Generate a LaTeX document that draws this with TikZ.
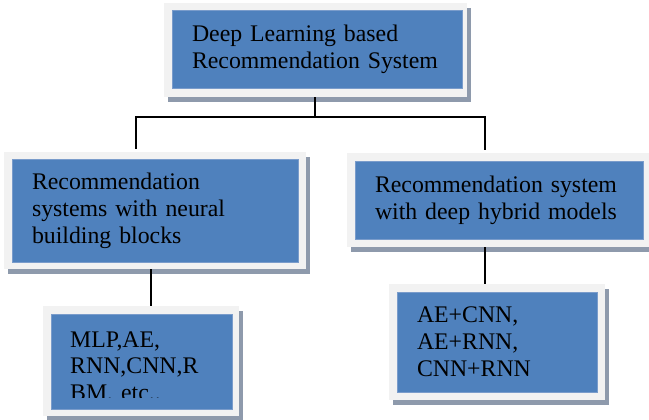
\documentclass[tikz,border=0pt]{standalone}
\usepackage{fontspec}
\setmainfont{Liberation Serif}
\usetikzlibrary{shadows}
\definecolor{boxblue}{HTML}{4F81BD}
\definecolor{boxedge}{HTML}{7A9CCB}
\definecolor{framegray}{HTML}{F2F2F2}
\definecolor{shadowgray}{HTML}{8E9AAC}
\begin{document}
\begin{tikzpicture}[x=1pt,y=-1pt,
  framebox/.style={fill=framegray, draw=none, inner sep=0pt,
    drop shadow={shadow xshift=4pt, shadow yshift=-5pt, fill=shadowgray, opacity=1}},
  bluebox/.style={fill=boxblue, draw=boxedge, line width=0.6pt, inner ysep=0pt, inner xsep=20pt,
    align=left, font=\fontsize{23.8}{27}\selectfont},
  plaintext/.style={inner sep=0pt, align=left, font=\fontsize{23.8}{26.5}\selectfont},
  link/.style={draw=black, line width=1.6pt}]
\useasboundingbox (0,0) rectangle (649,420);

% top
\node[framebox, minimum width=303pt, minimum height=94pt] (topf) at (315.5,50) {};
\node[bluebox, minimum width=290pt, minimum height=78pt, text width=250pt] (topb) at (317,49)
  {Deep Learning based\\Recommendation System};

% middle left
\node[framebox, minimum width=302pt, minimum height=117pt] (midlf) at (155,210.5) {};
\node[bluebox, minimum width=286pt, minimum height=103pt, text width=246pt] (midlb) at (155,210.5)
  {Recommendation\\systems with neural\\building blocks};

% middle right
\node[framebox, minimum width=308pt, minimum height=94pt] (midrf) at (501,200) {};
\node[bluebox, minimum width=288pt, minimum height=78pt, text width=248pt] (midrb) at (499,200)
  {Recommendation system\\with deep hybrid models};

% bottom left
\node[framebox, minimum width=196pt, minimum height=110pt] (blf) at (141,361) {};
\node[bluebox, minimum width=181pt, minimum height=95pt] (blb) at (141.5,361.5) {};
\begin{scope}
  \clip (51,314) rectangle (232,397.5);
  \node[plaintext, anchor=north west, text width=150pt] (blt) at (70,331.5)
    {MLP,AE,\\RNN,CNN,R\\BM, etc..};
\end{scope}

% bottom right
\node[framebox, minimum width=216pt, minimum height=116pt] (brf) at (497,342) {};
\node[bluebox, minimum width=200pt, minimum height=100pt, text width=160pt] (brb) at (497,342)
  {AE+CNN,\\AE+RNN,\\CNN+RNN};

% connectors
\coordinate (hub) at (315,117);
\coordinate (jl) at (136,117);
\coordinate (jr) at (485,117);
\coordinate (dl) at (151,0);
\coordinate (dr) at (485,0);
\draw[link] (topf.south -| hub) -- (hub);
\draw[link] ([yshift=3pt]jl |- midlf.north) -- (jl) -- (jr) -- ([yshift=3pt]jr |- midrf.north);
\draw[link] (dl |- midlf.south) -- (dl |- blf.north);
\draw[link] (dr |- midrf.south) -- (dr |- brf.north);
\end{tikzpicture}
\end{document}
